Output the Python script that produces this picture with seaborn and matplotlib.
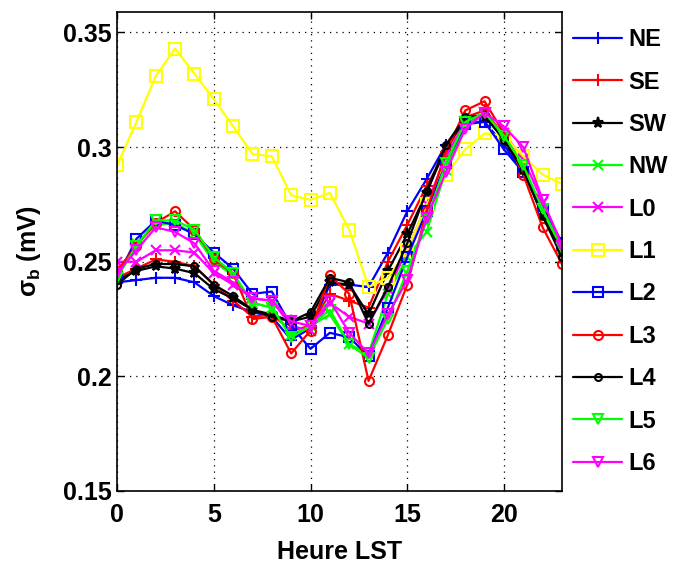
import numpy as np
import pandas as pd
import matplotlib
matplotlib.use("Agg")
import matplotlib.pyplot as plt
import seaborn as sns

# -------------------------------
# Data
# -------------------------------
hours = list(range(24))

ne = [0.241, 0.242, 0.243, 0.243, 0.241, 0.235, 0.231, 0.228, 0.226, 0.216, 0.221, 0.240,
      0.240, 0.239, 0.254, 0.272, 0.286, 0.301, 0.311, 0.311, 0.301, 0.289, 0.274, 0.258]
se = [0.243, 0.247, 0.251, 0.250, 0.248, 0.240, 0.233, 0.226, 0.227, 0.220, 0.222, 0.236,
      0.233, 0.230, 0.250, 0.266, 0.283, 0.298, 0.313, 0.316, 0.305, 0.291, 0.272, 0.255]
sw = [0.242, 0.246, 0.248, 0.247, 0.245, 0.238, 0.234, 0.229, 0.227, 0.224, 0.226, 0.241,
      0.240, 0.227, 0.246, 0.262, 0.280, 0.300, 0.312, 0.313, 0.304, 0.290, 0.270, 0.254]
nw = [0.245, 0.258, 0.266, 0.267, 0.262, 0.250, 0.244, 0.232, 0.230, 0.218, 0.222, 0.227,
      0.214, 0.210, 0.236, 0.252, 0.263, 0.290, 0.310, 0.314, 0.305, 0.292, 0.272, 0.256]
l0 = [0.250, 0.250, 0.255, 0.255, 0.254, 0.245, 0.240, 0.234, 0.233, 0.222, 0.220, 0.232,
      0.226, 0.223, 0.238, 0.255, 0.275, 0.296, 0.311, 0.314, 0.306, 0.295, 0.276, 0.258]
l1 = [0.292, 0.311, 0.331, 0.343, 0.332, 0.321, 0.309, 0.297, 0.296, 0.279, 0.277, 0.280,
      0.264, 0.239, 0.243, 0.255, 0.275, 0.288, 0.299, 0.306, 0.305, 0.296, 0.288, 0.284]
l2 = [0.243, 0.260, 0.268, 0.266, 0.262, 0.254, 0.247, 0.236, 0.237, 0.222, 0.212, 0.219,
      0.217, 0.209, 0.230, 0.252, 0.272, 0.293, 0.310, 0.311, 0.299, 0.289, 0.273, 0.258]
l3 = [0.246, 0.257, 0.267, 0.272, 0.264, 0.251, 0.245, 0.225, 0.226, 0.210, 0.220, 0.244,
      0.236, 0.198, 0.218, 0.240, 0.272, 0.298, 0.316, 0.320, 0.306, 0.288, 0.265, 0.249]
l4 = [0.240, 0.247, 0.249, 0.249, 0.248, 0.240, 0.235, 0.229, 0.226, 0.224, 0.228, 0.243,
      0.241, 0.223, 0.239, 0.258, 0.281, 0.301, 0.313, 0.314, 0.303, 0.290, 0.270, 0.252]
l5 = [0.243, 0.257, 0.268, 0.268, 0.264, 0.252, 0.245, 0.232, 0.230, 0.217, 0.222, 0.229,
      0.214, 0.208, 0.225, 0.246, 0.268, 0.293, 0.311, 0.315, 0.305, 0.292, 0.273, 0.256]
l6 = [0.245, 0.255, 0.265, 0.263, 0.258, 0.246, 0.241, 0.234, 0.233, 0.224, 0.222, 0.233,
      0.219, 0.210, 0.227, 0.242, 0.269, 0.289, 0.308, 0.315, 0.309, 0.300, 0.277, 0.257]

names = ['NE', 'SE', 'SW', 'NW', 'L0', 'L1', 'L2', 'L3', 'L4', 'L5', 'L6']
series = [ne, se, sw, nw, l0, l1, l2, l3, l4, l5, l6]

y_ticks = [0.15, 0.2, 0.25, 0.3, 0.35]
y_tick_labels = ['0.15', '0.2', '0.25', '0.3', '0.35']
x_ticks = [0, 5, 10, 15, 20]

# style per series: colour, marker, marker size, filled?
styles = {
    'NE': ('#0000ff', '+', 8, True),
    'SE': ('#ff0000', '+', 8, True),
    'SW': ('#000000', '*', 8, True),
    'NW': ('#00ff00', 'x', 7, True),
    'L0': ('#ff00ff', 'x', 7, True),
    'L1': ('#ffff00', 's', 8, False),
    'L2': ('#0000ff', 's', 7.5, False),
    'L3': ('#ff0000', 'o', 6.5, False),
    'L4': ('#000000', 'o', 5, False),
    'L5': ('#00ff00', 'v', 7.5, False),
    'L6': ('#ff00ff', 'v', 7.5, False),
}

# -------------------------------
# Figure
# -------------------------------
sns.set_style('ticks')
plt.rcParams['font.family'] = ['Liberation Sans', 'DejaVu Sans']
plt.rcParams['font.weight'] = 'bold'
plt.rcParams['mathtext.fontset'] = 'custom'
plt.rcParams['mathtext.rm'] = 'Liberation Sans:bold'
plt.rcParams['mathtext.bf'] = 'Liberation Sans:bold'
for k in ['text.color', 'axes.labelcolor', 'xtick.color', 'ytick.color', 'axes.edgecolor']:
    plt.rcParams[k] = 'black'

fig = plt.figure(figsize=(6.73, 5.65), dpi=100)
ax = fig.add_axes([0.174, 0.131, 0.661, 0.848])

for name, vals in zip(names, series):
    c, m, ms, filled = styles[name]
    sns.lineplot(x=hours, y=vals, ax=ax, color=c, marker=m, markersize=ms,
                 mfc=c if filled else 'none', mec=c, mew=1.5,
                 linewidth=1.6, label=name, legend=False)

ax.set_xlim(0, 23)
ax.set_ylim(0.15, 0.359)
ax.set_xticks(x_ticks)
ax.set_yticks(y_ticks)
ax.set_yticklabels(y_tick_labels)

ax.grid(True, color='black', linestyle=(0, (1, 4)), linewidth=0.9)
for s in ax.spines.values():
    s.set_visible(True)
    s.set_color('black')
    s.set_linewidth(1.2)

ax.tick_params(direction='in', length=5, width=1, top=True, right=True,
               labelsize=18, labelcolor='black')
ax.tick_params(axis='x', pad=9)
ax.tick_params(axis='y', pad=4)
for lab in ax.get_xticklabels() + ax.get_yticklabels():
    lab.set_fontweight('bold')

ax.set_xlabel('Heure LST', fontsize=18, fontweight='bold', labelpad=9)
ax.set_ylabel(r'σ$_\mathbf{b}$ (mV)', fontsize=18, fontweight='bold', labelpad=14)

handles = ax.get_lines()[:len(names)]
fig.legend(handles, names, loc='upper left', bbox_to_anchor=(0.851, 0.950),
           frameon=False, borderpad=0, borderaxespad=0, handlelength=2.1,
           handletextpad=0.25, labelspacing=0.82,
           prop={'size': 17, 'weight': 'bold'})

fig.savefig('out.png', dpi=100)
